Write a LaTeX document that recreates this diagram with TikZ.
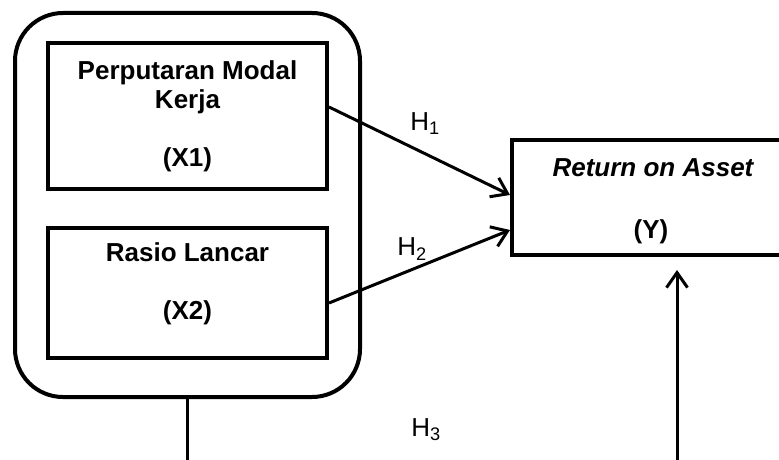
\documentclass[tikz,border=0pt]{standalone}
\usepackage{fontspec}
\setmainfont{Liberation Sans}
\usetikzlibrary{arrows.meta,calc}
\begin{document}
\begin{tikzpicture}[x=1pt,y=-1pt,
  box/.style={draw,line width=4pt,rectangle,inner sep=0pt},
  txt/.style={align=center,inner sep=0pt,font=\fontsize{26}{29}\selectfont\bfseries},
  hlab/.style={inner sep=0pt,font=\fontsize{26}{29}\selectfont},
  conn/.style={line width=3pt,-{Straight Barb[length=15pt,width=21pt,line width=3pt]}},
  plain/.style={line width=3pt}]
\useasboundingbox (0,0) rectangle (779,460);
\clip (0,0) rectangle (779,460);
\fill[white] (0,0) rectangle (779,460);
% outer group
\node[box,rounded corners=48pt,minimum width=345pt,minimum height=384pt] (outer) at (187.5,205) {};
% inner boxes
\node[box,minimum width=279pt,minimum height=146pt] (x1) at (187.5,116) {};
\node[box,minimum width=279pt,minimum height=130pt] (x2) at (187.5,293) {};
\node[box,minimum width=283pt,minimum height=115pt] (y) at (653.5,197.5) {};
% texts
\node[txt] (x1t) at (187.5,116) {Perputaran Modal\\Kerja\\[29pt](X1)};
\node[txt] (x2t) at (187.5,284) {Rasio Lancar\\[29pt](X2)};
\node[txt,font=\fontsize{26}{29}\selectfont\bfseries\itshape] (yt1) at (653,168) {Return on Asset};
\node[txt] (yt2) at (651,232) {(Y)};
% labels
\node[hlab] (h1) at (425,124) {H\textsubscript{1}};
\node[hlab] (h2) at (412,249) {H\textsubscript{2}};
\node[hlab] (h3) at (426,430) {H\textsubscript{3}};
% connectors
\draw[conn] ($(x1.east)+(0,-9)$) -- ($(y.west)+(0,-2.5)$);
\draw[conn] ($(x2.east)+(0,10)$) -- ($(y.west)+(0,32.5)$);
\coordinate (b1) at (outer.south |- 0,470);
\draw[plain] (outer.south) -- (b1);
\coordinate (b2) at (677,470);
\coordinate (t2) at (677,270);
\draw[conn] (b2) -- (t2);
\end{tikzpicture}
\end{document}
